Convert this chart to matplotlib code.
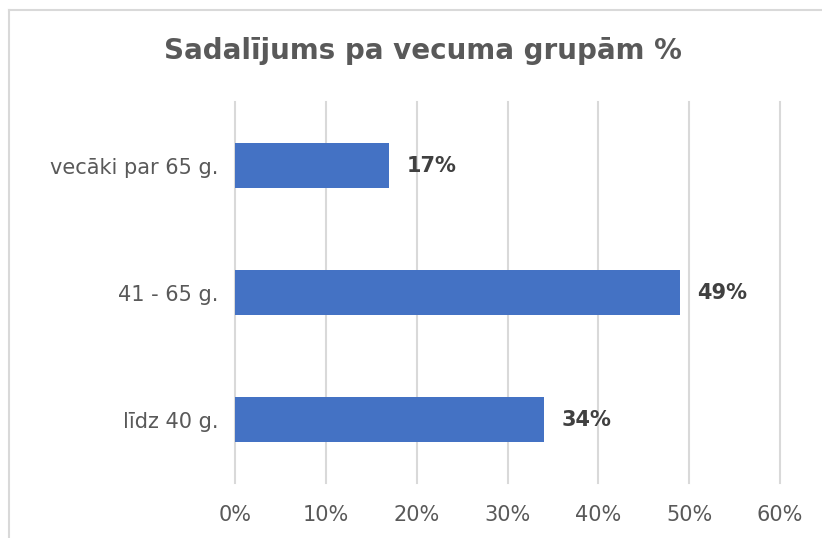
import matplotlib.pyplot as plt
from matplotlib.lines import Line2D
from matplotlib.ticker import FuncFormatter

# dati
grupas = ['līdz 40 g.', '41 - 65 g.', 'vecāki par 65 g.']
vertibas = [34, 49, 17]
x_ticks = [0, 10, 20, 30, 40, 50, 60]

plt.rcParams['font.family'] = ['DejaVu Sans']

fig = plt.figure(figsize=(8.22, 5.38), dpi=100)
ax = fig.add_axes([235 / 822, 55 / 538, 545 / 822, 381 / 538])

# rāmis ap diagrammu (redzama tikai kreisā un augšējā mala)
x0 = 8.5 / 822
y0 = 1 - 9.5 / 538
fig.lines.append(Line2D([x0, x0], [0, y0], transform=fig.transFigure,
                        color='#D9D9D9', linewidth=1.5))
fig.lines.append(Line2D([x0, 1], [y0, y0], transform=fig.transFigure,
                        color='#D9D9D9', linewidth=1.5))

y = range(len(grupas))
ax.barh(y, vertibas, height=0.36, color='#4472C4', zorder=3)

for i, v in enumerate(vertibas):
    ax.text(v + 1.9, i, f'{v}%', va='center', ha='left', fontsize=15,
            fontweight='bold', color='#404040')

ax.set_xlim(0, 60)
ax.set_ylim(-0.5, 2.5)
ax.set_xticks(x_ticks)
ax.xaxis.set_major_formatter(FuncFormatter(lambda v, p: f'{v:.0f}%'))
ax.set_yticks(list(y))
ax.set_yticklabels(grupas)
ax.tick_params(axis='both', length=0, labelsize=15, labelcolor='#595959')
ax.tick_params(axis='x', pad=16)
ax.tick_params(axis='y', pad=12)
ax.grid(axis='x', color='#D9D9D9', linewidth=1.5, zorder=0)
for gl in ax.get_xgridlines():
    gl.set_clip_on(False)
for s in ax.spines.values():
    s.set_visible(False)

fig.text(0.514, 1 - 51 / 538, 'Sadalījums pa vecuma grupām %', ha='center',
         va='center', fontsize=20, fontweight='bold', color='#595959')

fig.savefig('out.png', dpi=100)
